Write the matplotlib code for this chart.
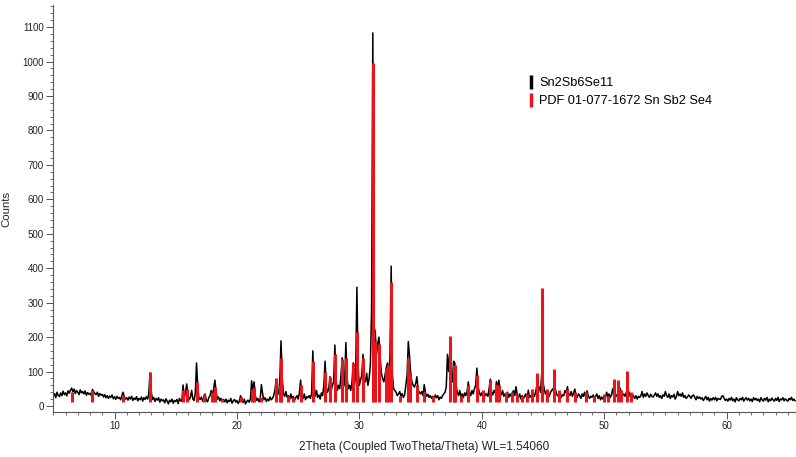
import numpy as np
import matplotlib
matplotlib.use("Agg")
import matplotlib.pyplot as plt
from matplotlib.lines import Line2D
from matplotlib.ticker import MultipleLocator

plt.rcParams['font.family'] = ['Liberation Sans', 'DejaVu Sans']

# measured pattern: 2theta from 5.0 in 0.1 deg steps
two_theta_start = 5.0
two_theta_step = 0.1
counts_measured = [
    30, 36, 24, 40, 31, 27, 38, 30, 43, 33,   # 5
    38, 29, 44, 37, 46, 52, 41, 49, 36, 45,   # 6
    40, 33, 47, 38, 42, 35, 44, 31, 39, 34,   # 7
    37, 30, 48, 42, 36, 33, 40, 28, 36, 31,   # 8
    34, 26, 33, 24, 30, 22, 29, 25, 32, 21,   # 9
    27, 19, 28, 22, 25, 18, 30, 40, 26, 20,   # 10
    24, 17, 26, 20, 28, 16, 23, 19, 27, 15,   # 11
    22, 18, 26, 14, 24, 19, 27, 20, 35, 96,   # 12
    42, 19, 25, 13, 22, 17, 24, 11, 20, 15,   # 13
    18, 9, 21, 14, 6, 17, 12, 20, 8, 16,      # 14
    13, 19, 7, 22, 15, 14, 61, 25, 40, 64,    # 15
    30, 18, 26, 45, 20, 16, 38, 125, 55, 22,  # 16
    19, 26, 14, 21, 35, 17, 12, 24, 30, 45,   # 17
    28, 50, 75, 40, 20, 26, 15, 22, 14, 19,   # 18
    12, 20, 9, 17, 13, 22, 8, 15, 19, 11,     # 19
    16, 7, 14, 30, 18, 10, 20, 6, 13, 17,     # 20
    11, 19, 73, 45, 70, 30, 16, 22, 12, 20,   # 21
    62, 35, 18, 24, 13, 20, 15, 26, 18, 22,   # 22
    30, 45, 73, 40, 35, 70, 189, 80, 35, 28,  # 23
    42, 25, 30, 18, 35, 22, 28, 16, 24, 30,   # 24
    20, 38, 75, 30, 22, 35, 18, 27, 24, 30,   # 25
    22, 35, 160, 60, 28, 45, 25, 32, 20, 38,  # 26
    30, 60, 130, 55, 40, 50, 85, 45, 60, 70,  # 27
    177, 75, 45, 60, 50, 90, 140, 55, 70, 184,  # 28
    80, 50, 60, 45, 70, 125, 60, 90, 345, 110,  # 29
    60, 75, 90, 150, 80, 70, 95, 60, 80, 120,   # 30
    280, 1083, 230, 215, 150, 180, 200, 140, 95, 80,  # 31
    70, 90, 112, 125, 75, 140, 406, 90, 50, 45,  # 32
    40, 30, 35, 42, 28, 36, 25, 32, 60, 90,     # 33
    187, 145, 90, 70, 60, 55, 65, 85, 45, 40,   # 34
    35, 42, 30, 62, 38, 28, 34, 25, 30, 22,     # 35
    28, 20, 32, 24, 30, 18, 26, 22, 30, 35,     # 36
    40, 55, 150, 100, 160, 90, 70, 130, 125, 60,  # 37
    40, 30, 45, 28, 35, 25, 38, 30, 42, 70,     # 38
    40, 30, 45, 35, 50, 60, 110, 55, 40, 30,    # 39
    38, 25, 42, 30, 35, 28, 50, 78, 40, 32,     # 40
    45, 38, 71, 50, 75, 40, 32, 45, 28, 35,     # 41
    30, 40, 25, 35, 28, 38, 45, 30, 56, 32,     # 42
    25, 35, 20, 30, 22, 28, 35, 18, 46, 25,     # 43
    30, 22, 35, 28, 40, 60, 45, 55, 40, 95,     # 44
    70, 50, 35, 42, 30, 28, 38, 45, 50, 40,     # 45
    52, 35, 30, 28, 40, 25, 32, 30, 45, 38,     # 46
    56, 35, 30, 42, 28, 38, 49, 30, 25, 35,     # 47
    30, 22, 35, 28, 40, 25, 44, 30, 22, 28,     # 48
    25, 32, 20, 28, 35, 22, 30, 18, 26, 20,     # 49
    30, 22, 40, 28, 35, 25, 32, 50, 30, 25,     # 50
    30, 35, 28, 52, 40, 30, 35, 28, 38, 50,     # 51
    42, 30, 25, 35, 28, 22, 30, 20, 28, 25,     # 52
    30, 42, 25, 35, 28, 38, 30, 25, 34, 28,     # 53
    26, 32, 38, 28, 35, 25, 30, 22, 32, 28,     # 54
    42, 30, 25, 35, 22, 30, 26, 34, 20, 28,     # 55
    42, 30, 35, 28, 38, 25, 30, 22, 26, 32,     # 56
    28, 22, 30, 32, 25, 18, 28, 22, 26, 20,     # 57
    24, 16, 22, 28, 18, 25, 14, 22, 17, 24,     # 58
    18, 25, 15, 22, 20, 19, 28, 30, 22, 16,     # 59
    20, 14, 22, 17, 25, 15, 20, 12, 24, 18,     # 60
    15, 22, 18, 25, 14, 20, 24, 17, 22, 15,     # 61
    20, 13, 24, 18, 22, 16, 20, 12, 24, 18,     # 62
    14, 22, 17, 25, 12, 20, 15, 23, 18, 14,     # 63
    22, 16, 25, 13, 20, 18, 24, 15, 21, 17,     # 64
    14, 22, 18, 25, 16, 20, 15,                 # 65
]

# reference pattern PDF 01-077-1672 (stick positions / heights)
pdf_positions = [6.5, 8.2, 10.7, 12.9, 15.6, 15.9, 16.7, 17.3, 18.0, 18.2, 18.8, 20.3,
                 21.2, 21.4, 22.0, 23.2, 23.5, 23.6, 24.2, 24.6, 25.2, 26.2, 27.2, 27.6,
                 28.0, 28.6, 28.9, 29.5, 29.8, 30.3, 31.1, 31.3, 31.6, 32.2, 32.3, 32.6,
                 33.3, 34.0, 34.1, 34.7, 35.3, 36.0, 37.4, 37.7, 37.8, 38.3, 38.9, 39.6,
                 40.1, 40.7, 41.2, 41.4, 42.0, 42.5, 42.9, 43.3, 43.7, 44.1, 44.5, 44.9,
                 45.3, 45.9, 46.3, 47.0, 47.6, 48.5, 49.2, 50.0, 50.3, 50.8, 51.1, 51.4,
                 51.9, 52.2]
pdf_heights = [40, 45, 30, 100, 45, 50, 70, 35, 40, 55, 20, 25,
               50, 55, 25, 80, 60, 140, 30, 25, 60, 130, 100, 85,
               150, 135, 140, 125, 215, 140, 996, 190, 180, 110, 120, 360,
               30, 140, 100, 60, 40, 30, 203, 120, 120, 30, 60, 90,
               45, 75, 65, 60, 40, 40, 35, 30, 35, 50, 96, 343,
               50, 107, 45, 50, 40, 40, 30, 35, 30, 77, 75, 45,
               102, 40]

series_labels = ["Sn2Sb6Se11", "PDF 01-077-1672 Sn Sb2 Se4"]

two_theta = two_theta_start + two_theta_step * np.arange(len(counts_measured))

fig = plt.figure(figsize=(7.96, 4.57), dpi=100)
ax = fig.add_axes([0.0662, 0.0985, 0.9338, 0.8905])

ax.plot(two_theta, counts_measured, color='black', lw=1.1, zorder=2)
ax.vlines(pdf_positions, 12, pdf_heights, color='#e8161b', lw=2.2, zorder=3)

ax.set_xlim(4.95, 65.67)
ax.set_ylim(-17.4, 1164)

for s in ['top', 'right']:
    ax.spines[s].set_visible(False)
for s in ['left', 'bottom']:
    ax.spines[s].set_color('#555555')
    ax.spines[s].set_linewidth(0.8)

ax.xaxis.set_major_locator(MultipleLocator(10))
ax.xaxis.set_minor_locator(MultipleLocator(1))
ax.yaxis.set_major_locator(MultipleLocator(100))
ax.yaxis.set_minor_locator(MultipleLocator(20))
ax.tick_params(which='major', length=5, width=0.7, color='#555555', labelsize=7, labelcolor='#222222', pad=1.5)
ax.tick_params(which='minor', length=2.5, width=0.6, color='#555555')

ax.set_xlabel("2Theta (Coupled TwoTheta/Theta) WL=1.54060", fontsize=8.5, color='#222222', labelpad=7)
ax.set_ylabel("Counts", fontsize=8.2, color='#222222', labelpad=8)

handles = [Line2D([], [], color='black', marker='|', linestyle='None', markersize=10, markeredgewidth=2.5),
           Line2D([], [], color='#e8161b', marker='|', linestyle='None', markersize=10, markeredgewidth=2.5)]
fig.legend(handles, series_labels, loc='upper left', bbox_to_anchor=(0.655, 0.845),
           frameon=False, fontsize=9.2, handlelength=0.5, handletextpad=0.4,
           labelspacing=0.45, borderpad=0)

fig.savefig("out.png", dpi=100)
